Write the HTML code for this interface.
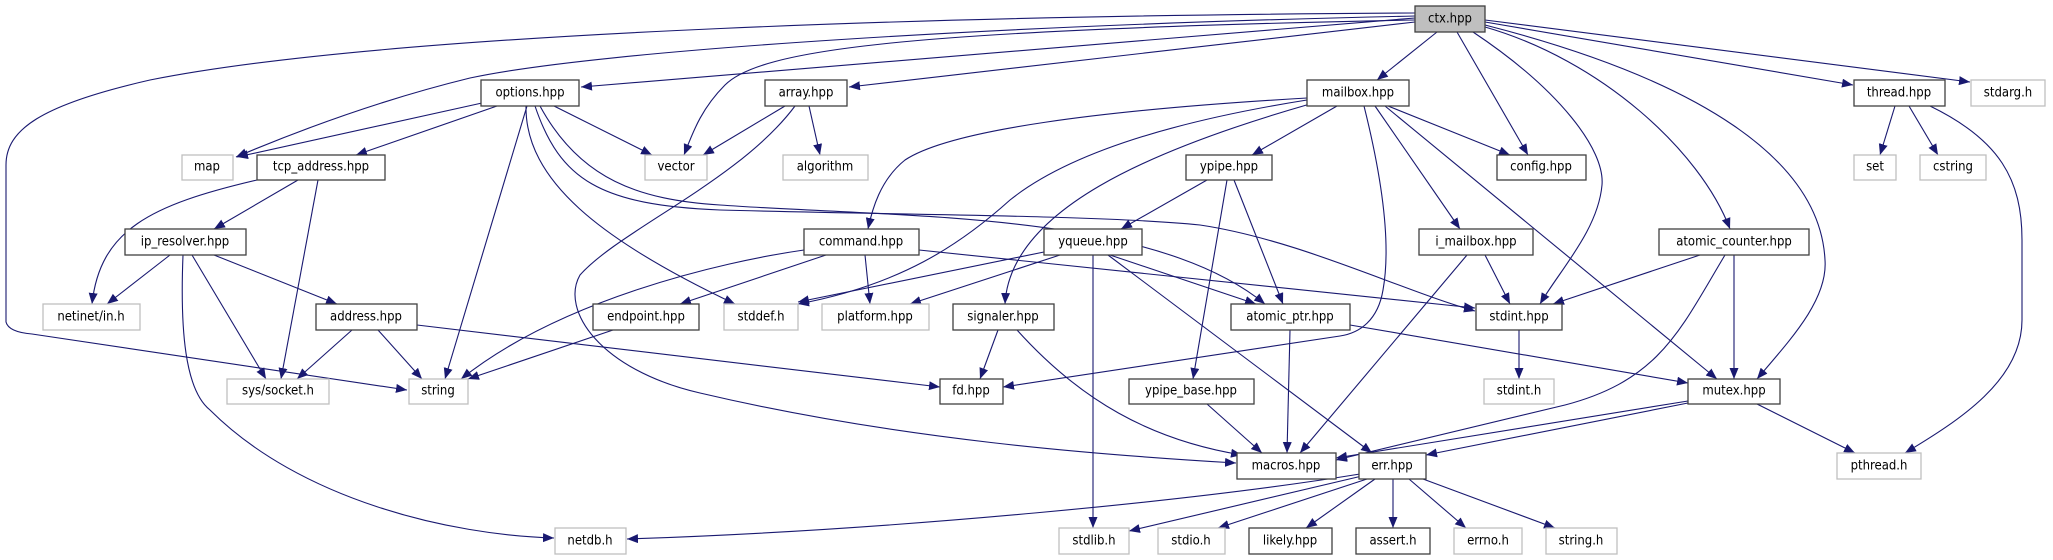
<!DOCTYPE html>
<html><head><meta charset="utf-8"><style>
html,body{margin:0;padding:0;background:#fff;}
svg{display:block;}
text{font-family:"DejaVu Sans Condensed","Liberation Sans Narrow","Liberation Sans",sans-serif;font-size:13px;fill:#000;text-anchor:middle;dominant-baseline:central;}
.n{fill:#fff;stroke:#404040;stroke-width:1.3;}
.s{fill:#fff;stroke:#bfbfbf;stroke-width:1.3;}
.e{fill:none;stroke:#191970;stroke-width:1.1;marker-end:url(#a);}
</style></head><body>
<svg width="2053" height="560" viewBox="0 0 2053 560" xmlns="http://www.w3.org/2000/svg">
<defs><marker id="a" markerUnits="userSpaceOnUse" markerWidth="12" markerHeight="10" refX="11" refY="4.5" orient="auto"><path d="M0,0 L11,4.5 L0,9 z" fill="#191970"/></marker></defs>
<g>
<!-- ctx edges -->
<path class="e" d="M1415,13 C1000,15 400,30 150,80 C40,105 6,130 6,165 L6,322 C8,330 20,333 32,334 L407,390"/>
<path class="e" d="M1415,16 C1000,25 600,50 470,78 C380,100 300,130 236,157"/>
<path class="e" d="M1415,18 L581,87"/>
<path class="e" d="M1415,20 C900,30 760,50 725,85 C700,110 692,135 684,155"/>
<path class="e" d="M1415,22 L849,87"/>
<path class="e" d="M1437,32 L1377,80"/>
<path class="e" d="M1457,32 L1528,155"/>
<path class="e" d="M1473,32 C1560,90 1605,150 1602,185 C1598,230 1560,270 1540,304"/>
<path class="e" d="M1485,27 C1600,60 1700,150 1730,229"/>
<path class="e" d="M1485,25 C1700,80 1820,160 1825,260 C1828,300 1790,340 1757,379"/>
<path class="e" d="M1485,22 L1853,85"/>
<path class="e" d="M1485,20 L1970,82"/>
<!-- options -->
<path class="e" d="M482,103 L237,157"/>
<path class="e" d="M497,106 L356,155"/>
<path class="e" d="M554,106 L652,155"/>
<path class="e" d="M527,106 L445,379"/>
<path class="e" d="M526,106 C525,180 600,240 735,304"/>
<path class="e" d="M535,106 C560,180 600,205 720,210 C900,215 1100,215 1200,225 C1300,240 1400,290 1475,311"/>
<path class="e" d="M540,106 C580,180 640,200 720,205 C900,218 1150,210 1265,304"/>
<!-- tcp_address -->
<path class="e" d="M298,180 L214,229"/>
<path class="e" d="M257,180 C150,205 100,230 92,304"/>
<path class="e" d="M318,180 L281,379"/>
<!-- ip_resolver -->
<path class="e" d="M170,255 L107,304"/>
<path class="e" d="M192,255 L266,379"/>
<path class="e" d="M214,255 L337,304"/>
<path class="e" d="M183,255 C180,330 185,390 210,410 C300,500 450,535 554,538"/>
<!-- address -->
<path class="e" d="M352,330 L297,379"/>
<path class="e" d="M378,330 L422,379"/>
<path class="e" d="M417,325 L940,387"/>
<!-- array -->
<path class="e" d="M785,106 L703,155"/>
<path class="e" d="M809,106 L820,155"/>
<path class="e" d="M795,106 C740,180 620,230 580,275 C560,310 600,370 700,393 C900,440 1100,455 1236,463"/>
<!-- mailbox -->
<path class="e" d="M1307,98 C1100,110 950,130 905,160 C880,180 872,210 868,229"/>
<path class="e" d="M1307,100 C1150,125 1060,160 1010,200 C960,245 900,285 798,304"/>
<path class="e" d="M1310,104 C1150,150 1010,210 1005,304"/>
<path class="e" d="M1337,106 L1252,155"/>
<path class="e" d="M1388,106 L1510,155"/>
<path class="e" d="M1375,106 L1460,229"/>
<path class="e" d="M1385,106 L1717,379"/>
<path class="e" d="M1364,106 C1380,170 1392,240 1383,290 C1378,320 1360,333 1340,336 L1003,387"/>
<!-- ypipe -->
<path class="e" d="M1207,180 L1121,229"/>
<path class="e" d="M1227,180 L1193,379"/>
<path class="e" d="M1234,180 L1283,304"/>
<!-- command -->
<path class="e" d="M804,250 C720,262 560,300 461,379"/>
<path class="e" d="M826,255 L680,304"/>
<path class="e" d="M865,255 L870,304"/>
<path class="e" d="M919,250 L1475,308"/>
<!-- endpoint -->
<path class="e" d="M613,330 L468,379"/>
<!-- yqueue -->
<path class="e" d="M1044,252 L798,302"/>
<path class="e" d="M1060,255 L910,304"/>
<path class="e" d="M1110,255 L1256,304"/>
<path class="e" d="M1093,255 L1093,528"/>
<path class="e" d="M1108,255 L1372,453"/>
<!-- signaler -->
<path class="e" d="M998,330 L980,379"/>
<path class="e" d="M1017,330 C1080,400 1150,440 1242,455"/>
<!-- atomic_ptr -->
<path class="e" d="M1290,330 L1287,453"/>
<path class="e" d="M1350,325 L1688,383"/>
<!-- ypipe_base -->
<path class="e" d="M1207,404 L1262,453"/>
<!-- i_mailbox -->
<path class="e" d="M1485,255 L1510,304"/>
<path class="e" d="M1467,255 L1300,453"/>
<!-- atomic_counter -->
<path class="e" d="M1700,255 L1553,304"/>
<path class="e" d="M1734,255 L1734,379"/>
<path class="e" d="M1725,255 C1680,330 1660,380 1565,405 L1336,460"/>
<!-- stdint.hpp -->
<path class="e" d="M1519,330 L1519,379"/>
<!-- mutex -->
<path class="e" d="M1688,401 L1336,458"/>
<path class="e" d="M1688,403 L1426,455"/>
<path class="e" d="M1757,404 L1855,453"/>
<!-- thread -->
<path class="e" d="M1895,106 L1880,155"/>
<path class="e" d="M1909,106 L1938,155"/>
<path class="e" d="M1930,106 C2000,140 2022,180 2022,240 L2022,320 C2022,380 1960,420 1905,453"/>
<!-- err -->
<path class="e" d="M1360,474 C1200,500 900,530 627,539"/>
<path class="e" d="M1362,476 L1129,531"/>
<path class="e" d="M1367,479 L1218,528"/>
<path class="e" d="M1375,479 L1306,528"/>
<path class="e" d="M1393,479 L1393,528"/>
<path class="e" d="M1409,479 L1466,528"/>
<path class="e" d="M1423,479 L1555,528"/>
</g>
<g>
<rect x="1415" y="6" width="70" height="26" fill="#bfbfbf" stroke="#404040" stroke-width="1.3"/><text x="1450" y="19">ctx.hpp</text>
<rect class="n" x="481" y="80" width="98" height="26"/><text x="530" y="93">options.hpp</text>
<rect class="n" x="765" y="80" width="82" height="26"/><text x="806" y="93">array.hpp</text>
<rect class="n" x="1307" y="80" width="102" height="26"/><text x="1358" y="93">mailbox.hpp</text>
<rect class="n" x="1854" y="80" width="91" height="26"/><text x="1899" y="93">thread.hpp</text>
<rect class="s" x="1971" y="80" width="74" height="26"/><text x="2008" y="93">stdarg.h</text>
<rect class="s" x="182" y="155" width="51" height="25"/><text x="207" y="167">map</text>
<rect class="n" x="257" y="155" width="128" height="25"/><text x="321" y="167">tcp_address.hpp</text>
<rect class="s" x="645" y="155" width="62" height="25"/><text x="676" y="167">vector</text>
<rect class="s" x="783" y="155" width="85" height="25"/><text x="825" y="167">algorithm</text>
<rect class="n" x="1186" y="155" width="86" height="25"/><text x="1229" y="167">ypipe.hpp</text>
<rect class="n" x="1497" y="155" width="89" height="25"/><text x="1541" y="167">config.hpp</text>
<rect class="s" x="1854" y="155" width="42" height="25"/><text x="1875" y="167">set</text>
<rect class="s" x="1920" y="155" width="66" height="25"/><text x="1953" y="167">cstring</text>
<rect class="n" x="125" y="229" width="121" height="26"/><text x="185" y="242">ip_resolver.hpp</text>
<rect class="n" x="804" y="229" width="115" height="26"/><text x="861" y="242">command.hpp</text>
<rect class="n" x="1044" y="229" width="98" height="26"/><text x="1093" y="242">yqueue.hpp</text>
<rect class="n" x="1419" y="229" width="114" height="26"/><text x="1476" y="242">i_mailbox.hpp</text>
<rect class="n" x="1659" y="229" width="150" height="26"/><text x="1734" y="242">atomic_counter.hpp</text>
<rect class="s" x="43" y="304" width="97" height="26"/><text x="91" y="317">netinet/in.h</text>
<rect class="n" x="316" y="304" width="101" height="26"/><text x="366" y="317">address.hpp</text>
<rect class="n" x="593" y="304" width="106" height="26"/><text x="646" y="317">endpoint.hpp</text>
<rect class="s" x="724" y="304" width="74" height="26"/><text x="761" y="317">stddef.h</text>
<rect class="s" x="822" y="304" width="107" height="26"/><text x="875" y="317">platform.hpp</text>
<rect class="n" x="953" y="304" width="101" height="26"/><text x="1003" y="317">signaler.hpp</text>
<rect class="n" x="1231" y="304" width="119" height="26"/><text x="1290" y="317">atomic_ptr.hpp</text>
<rect class="n" x="1476" y="304" width="86" height="26"/><text x="1519" y="317">stdint.hpp</text>
<rect class="s" x="227" y="379" width="102" height="25"/><text x="278" y="391">sys/socket.h</text>
<rect class="s" x="409" y="379" width="59" height="25"/><text x="438" y="391">string</text>
<rect class="n" x="940" y="379" width="63" height="25"/><text x="971" y="391">fd.hpp</text>
<rect class="n" x="1129" y="379" width="125" height="25"/><text x="1191" y="391">ypipe_base.hpp</text>
<rect class="s" x="1484" y="379" width="70" height="25"/><text x="1519" y="391">stdint.h</text>
<rect class="n" x="1688" y="379" width="92" height="25"/><text x="1734" y="391">mutex.hpp</text>
<rect class="n" x="1237" y="453" width="99" height="26"/><text x="1286" y="466">macros.hpp</text>
<rect class="n" x="1359" y="453" width="67" height="26"/><text x="1392" y="466">err.hpp</text>
<rect class="s" x="1837" y="453" width="84" height="26"/><text x="1879" y="466">pthread.h</text>
<rect class="s" x="555" y="528" width="71" height="26"/><text x="590" y="541">netdb.h</text>
<rect class="s" x="1059" y="528" width="70" height="26"/><text x="1094" y="541">stdlib.h</text>
<rect class="s" x="1158" y="528" width="67" height="26"/><text x="1191" y="541">stdio.h</text>
<rect class="n" x="1249" y="528" width="83" height="26"/><text x="1290" y="541">likely.hpp</text>
<rect class="n" x="1356" y="528" width="74" height="26"/><text x="1393" y="541">assert.h</text>
<rect class="s" x="1454" y="528" width="68" height="26"/><text x="1488" y="541">errno.h</text>
<rect class="s" x="1546" y="528" width="71" height="26"/><text x="1581" y="541">string.h</text>
</g>
</svg>
</body></html>
